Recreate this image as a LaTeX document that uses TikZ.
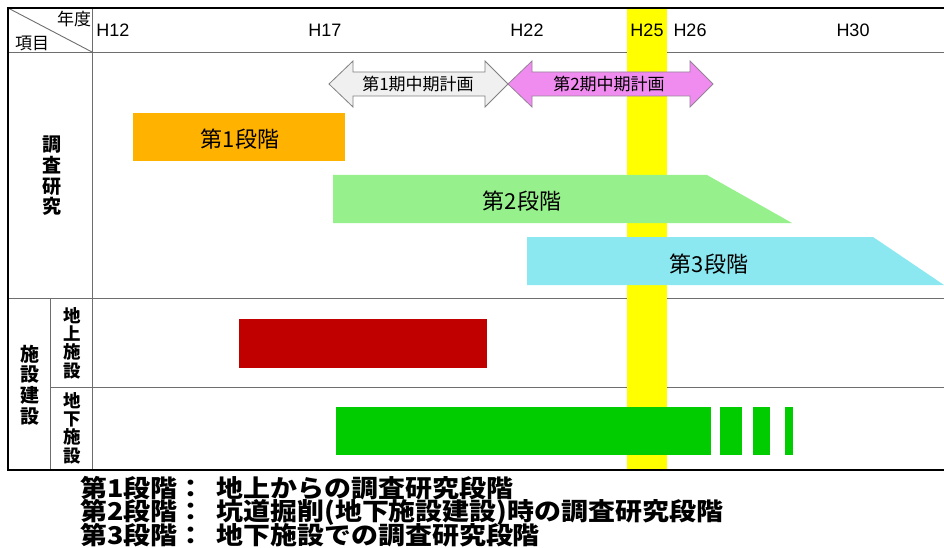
\documentclass[tikz,border=0pt]{standalone}
\usepackage{fontspec}
\setmainfont{Liberation Sans}
\newfontfamily\jp{Noto Sans CJK JP}
\definecolor{yellowband}{RGB}{255,255,0}
\definecolor{stone}{RGB}{255,178,0}
\definecolor{sttwo}{RGB}{150,240,140}
\definecolor{stthree}{RGB}{140,232,240}
\definecolor{redbar}{RGB}{192,0,0}
\definecolor{grnbar}{RGB}{0,204,0}
\definecolor{pinkarr}{RGB}{240,140,240}
\definecolor{grayarr}{RGB}{240,240,240}
\definecolor{gridc}{RGB}{110,110,110}
\tikzset{
  gridline/.style={draw=gridc, line width=0.9pt},
  borderline/.style={draw=black, line width=2.6pt},
  yearlbl/.style={font=\fontsize{18}{20}\selectfont, inner sep=0pt},
  headlbl/.style={font=\jp\fontsize{17}{19}\selectfont, inner sep=0pt},
  arrlbl/.style={font=\jp\fontsize{17}{19}\selectfont, inner sep=0pt},
  stagelbl/.style={font=\jp\fontsize{22}{24}\selectfont, inner sep=0pt},
  vlblbig/.style={font=\jp\bfseries\fontsize{19}{20.7}\selectfont, align=center, inner sep=0pt},
  vlblsmall/.style={font=\jp\bfseries\fontsize{17.5}{18.3}\selectfont, align=center, inner sep=0pt},
  legend/.style={font=\jp\bfseries\fontsize{24.5}{25}\selectfont, inner sep=0pt, anchor=base west, xscale=1.1},
}
\begin{document}
\begin{tikzpicture}[x=1pt,y=-1pt]
\useasboundingbox (0,0) rectangle (944,548);
\fill[white] (0,0) rectangle (944,548);
% grid lines
\draw[gridline] (8,8) -- (92,52);
\draw[gridline] (92,8) -- (92,470);
\draw[gridline] (8,52) -- (944,52);
\draw[gridline] (8,298) -- (944,298);
\draw[gridline] (50,298) -- (50,470);
\draw[gridline] (50,387) -- (944,387);
% yellow band
\fill[fill=yellowband] (627,9) rectangle (667,469);
% border
\draw[borderline] (944,8) -- (8,8) -- (8,470) -- (944,470);
% header labels
\node[headlbl] (nendo) at (74,19) {年度};
\node[headlbl] (koumoku) at (32,43) {項目};
\node[yearlbl] (h12) at (113,30) {H12};
\node[yearlbl] (h17) at (325,30) {H17};
\node[yearlbl] (h22) at (527,30) {H22};
\node[yearlbl] (h25) at (647,30) {H25};
\node[yearlbl] (h26) at (690,30) {H26};
\node[yearlbl] (h30) at (853,30) {H30};
% plan arrows
\filldraw[fill=grayarr, draw=gray, line width=0.8pt]
  (329,84) -- (353,61) -- (353,72) -- (485,72) -- (485,61) -- (508,84)
  -- (485,107) -- (485,96) -- (353,96) -- (353,107) -- cycle;
\filldraw[fill=pinkarr, draw=gray!80!pinkarr, line width=0.8pt]
  (508,84) -- (532,61) -- (532,72) -- (690,72) -- (690,61) -- (713,84)
  -- (690,107) -- (690,96) -- (532,96) -- (532,107) -- cycle;
\node[arrlbl] (plan1) at (418,84) {第1期中期計画};
\node[arrlbl] (plan2) at (609,84) {第2期中期計画};
% stage bars
\fill[fill=stone] (133,113) rectangle (345,161);
\fill[fill=sttwo] (333,175) -- (707,175) -- (792,223) -- (333,223) -- cycle;
\fill[fill=stthree] (527,237) -- (873,237) -- (944,285) -- (527,285) -- cycle;
\node[stagelbl] (s1) at (240,139) {第1段階};
\node[stagelbl] (s2) at (522,201) {第2段階};
\node[stagelbl] (s3) at (709,264) {第3段階};
% construction bars
\fill[fill=redbar] (239,319) rectangle (487,368);
\fill[fill=grnbar] (336,407) rectangle (711,455);
\fill[fill=grnbar] (720,407) rectangle (742,455);
\fill[fill=grnbar] (753,407) rectangle (770,455);
\fill[fill=grnbar] (785,407) rectangle (793,455);
% row labels
\node[vlblbig] (chosa) at (52,176) {調\\査\\研\\究};
\node[vlblbig] (shisetsu) at (30,385) {施\\設\\建\\設};
\node[vlblsmall] (chijo) at (72,343) {地\\上\\施\\設};
\node[vlblsmall] (chika) at (72,428) {地\\下\\施\\設};
% legend
\node[legend] (leg1) at (80,497) {第1段階：\hspace{11pt}地上からの調査研究段階};
\node[legend] (leg2) at (80,520.5) {第2段階：\hspace{11pt}坑道掘削(地下施設建設)時の調査研究段階};
\node[legend] (leg3) at (80,544) {第3段階：\hspace{11pt}地下施設での調査研究段階};
\end{tikzpicture}
\end{document}
